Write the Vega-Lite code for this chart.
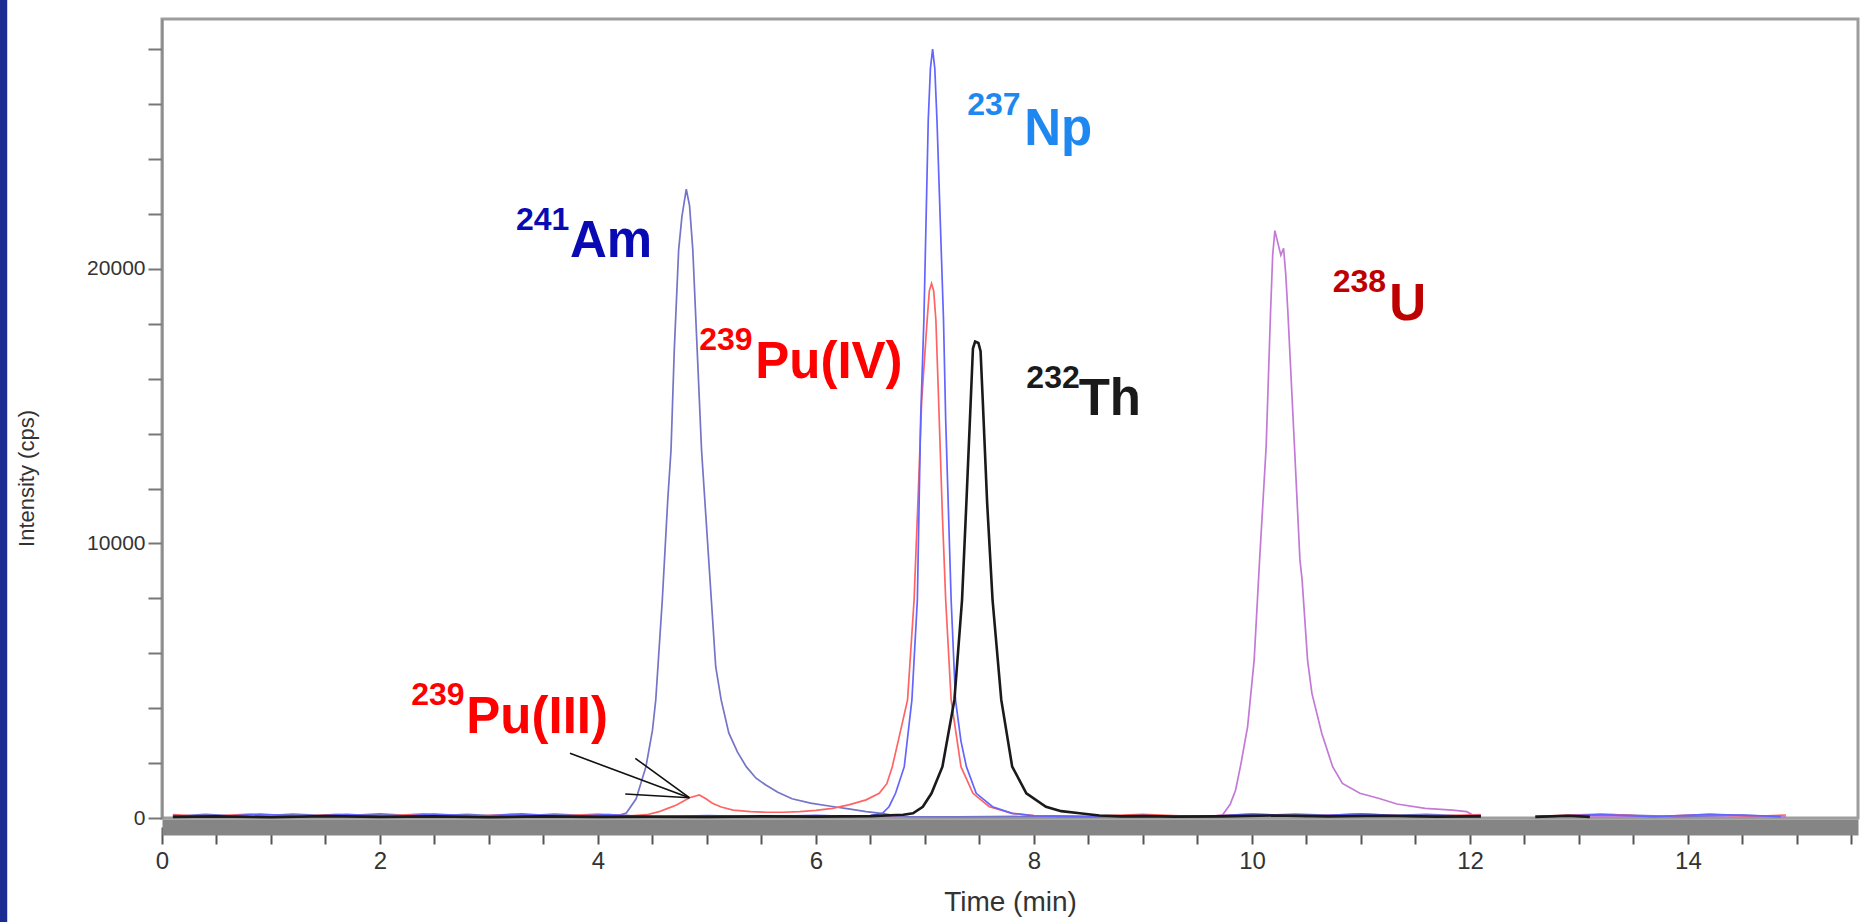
{
  "$schema": "https://vega.github.io/schema/vega-lite/v6.json",
  "autosize": "none",
  "width": 1696,
  "height": 799,
  "padding": {"left": 162, "top": 19, "right": 4, "bottom": 104},
  "background": "white",
  "config": {
    "font": "Liberation Sans",
    "view": {"stroke": "#9d9d9d", "strokeWidth": 3},
    "axis": {"grid": false, "labelOverlap": false, "labelFlush": false, "titleFontWeight": "normal"},
    "axisX": {"labelOverlap": false},
    "axisY": {"labelOverlap": false}
  },
  "datasets": {
    "strip": [{"name": "frame"}],
    "traces": [
      {"s":"Am","g":"a","t":0.1,"v":60},{"s":"Am","g":"a","t":0.4,"v":130},{"s":"Am","g":"a","t":0.8,"v":50},{"s":"Am","g":"a","t":1.2,"v":140},{"s":"Am","g":"a","t":1.6,"v":70},{"s":"Am","g":"a","t":2.0,"v":150},{"s":"Am","g":"a","t":2.4,"v":60},{"s":"Am","g":"a","t":2.8,"v":130},{"s":"Am","g":"a","t":3.2,"v":50},{"s":"Am","g":"a","t":3.6,"v":140},{"s":"Am","g":"a","t":4.0,"v":70},{"s":"Am","g":"a","t":4.2,"v":110},{"s":"Am","g":"a","t":4.26,"v":180},{"s":"Am","g":"a","t":4.35,"v":700},{"s":"Am","g":"a","t":4.44,"v":1870},{"s":"Am","g":"a","t":4.5,"v":3200},{"s":"Am","g":"a","t":4.53,"v":4300},{"s":"Am","g":"a","t":4.59,"v":7940},{"s":"Am","g":"a","t":4.64,"v":11580},{"s":"Am","g":"a","t":4.67,"v":13400},{"s":"Am","g":"a","t":4.7,"v":17050},{"s":"Am","g":"a","t":4.74,"v":20690},{"s":"Am","g":"a","t":4.77,"v":21900},{"s":"Am","g":"a","t":4.81,"v":22900},{"s":"Am","g":"a","t":4.84,"v":22300},{"s":"Am","g":"a","t":4.87,"v":20690},{"s":"Am","g":"a","t":4.91,"v":17050},{"s":"Am","g":"a","t":4.95,"v":13400},{"s":"Am","g":"a","t":4.98,"v":11580},{"s":"Am","g":"a","t":5.04,"v":7940},{"s":"Am","g":"a","t":5.08,"v":5510},{"s":"Am","g":"a","t":5.13,"v":4300},{"s":"Am","g":"a","t":5.2,"v":3100},{"s":"Am","g":"a","t":5.28,"v":2400},{"s":"Am","g":"a","t":5.36,"v":1870},{"s":"Am","g":"a","t":5.45,"v":1450},{"s":"Am","g":"a","t":5.54,"v":1200},{"s":"Am","g":"a","t":5.65,"v":940},{"s":"Am","g":"a","t":5.78,"v":700},{"s":"Am","g":"a","t":5.95,"v":540},{"s":"Am","g":"a","t":6.15,"v":420},{"s":"Am","g":"a","t":6.3,"v":330},{"s":"Am","g":"a","t":6.46,"v":230},{"s":"Am","g":"a","t":6.6,"v":170},{"s":"Am","g":"a","t":6.72,"v":90},{"s":"Am","g":"a","t":6.85,"v":50},{"s":"Am","g":"a","t":7.3,"v":40},{"s":"Am","g":"a","t":8.0,"v":60},{"s":"Am","g":"a","t":8.6,"v":40},{"s":"Am","g":"a","t":9.2,"v":80},{"s":"Am","g":"a","t":9.8,"v":50},{"s":"Am","g":"a","t":10.4,"v":140},{"s":"Am","g":"a","t":11.0,"v":60},{"s":"Am","g":"a","t":11.6,"v":130},{"s":"Am","g":"a","t":12.1,"v":50},
      {"s":"Am","g":"b","t":12.6,"v":60},{"s":"Am","g":"b","t":13.3,"v":120},{"s":"Am","g":"b","t":13.9,"v":50},{"s":"Am","g":"b","t":14.5,"v":110},{"s":"Am","g":"b","t":14.85,"v":40},
      {"s":"Np","g":"a","t":0.1,"v":90},{"s":"Np","g":"a","t":0.5,"v":40},{"s":"Np","g":"a","t":0.9,"v":140},{"s":"Np","g":"a","t":1.3,"v":50},{"s":"Np","g":"a","t":1.7,"v":130},{"s":"Np","g":"a","t":2.1,"v":40},{"s":"Np","g":"a","t":2.5,"v":140},{"s":"Np","g":"a","t":2.9,"v":60},{"s":"Np","g":"a","t":3.3,"v":150},{"s":"Np","g":"a","t":3.7,"v":50},{"s":"Np","g":"a","t":4.1,"v":120},{"s":"Np","g":"a","t":4.5,"v":40},{"s":"Np","g":"a","t":5.0,"v":90},{"s":"Np","g":"a","t":5.5,"v":50},{"s":"Np","g":"a","t":6.0,"v":100},{"s":"Np","g":"a","t":6.3,"v":60},{"s":"Np","g":"a","t":6.5,"v":90},{"s":"Np","g":"a","t":6.61,"v":170},{"s":"Np","g":"a","t":6.67,"v":410},{"s":"Np","g":"a","t":6.73,"v":900},{"s":"Np","g":"a","t":6.81,"v":1870},{"s":"Np","g":"a","t":6.88,"v":4300},{"s":"Np","g":"a","t":6.93,"v":7940},{"s":"Np","g":"a","t":6.96,"v":14500},{"s":"Np","g":"a","t":6.99,"v":18140},{"s":"Np","g":"a","t":7.01,"v":21780},{"s":"Np","g":"a","t":7.03,"v":25420},{"s":"Np","g":"a","t":7.05,"v":27300},{"s":"Np","g":"a","t":7.07,"v":28000},{"s":"Np","g":"a","t":7.09,"v":27300},{"s":"Np","g":"a","t":7.11,"v":25420},{"s":"Np","g":"a","t":7.14,"v":21780},{"s":"Np","g":"a","t":7.17,"v":18140},{"s":"Np","g":"a","t":7.19,"v":14500},{"s":"Np","g":"a","t":7.24,"v":7940},{"s":"Np","g":"a","t":7.28,"v":4300},{"s":"Np","g":"a","t":7.33,"v":2800},{"s":"Np","g":"a","t":7.38,"v":1870},{"s":"Np","g":"a","t":7.47,"v":900},{"s":"Np","g":"a","t":7.62,"v":410},{"s":"Np","g":"a","t":7.8,"v":170},{"s":"Np","g":"a","t":8.0,"v":80},{"s":"Np","g":"a","t":8.5,"v":50},{"s":"Np","g":"a","t":9.0,"v":90},{"s":"Np","g":"a","t":9.5,"v":40},{"s":"Np","g":"a","t":10.0,"v":140},{"s":"Np","g":"a","t":10.5,"v":60},{"s":"Np","g":"a","t":11.0,"v":150},{"s":"Np","g":"a","t":11.5,"v":50},{"s":"Np","g":"a","t":12.1,"v":90},
      {"s":"Np","g":"b","t":12.6,"v":40},{"s":"Np","g":"b","t":13.2,"v":120},{"s":"Np","g":"b","t":13.7,"v":50},{"s":"Np","g":"b","t":14.2,"v":130},{"s":"Np","g":"b","t":14.85,"v":60},
      {"s":"Pu","g":"a","t":0.1,"v":120},{"s":"Pu","g":"a","t":0.4,"v":50},{"s":"Pu","g":"a","t":0.8,"v":140},{"s":"Pu","g":"a","t":1.2,"v":40},{"s":"Pu","g":"a","t":1.6,"v":130},{"s":"Pu","g":"a","t":2.0,"v":60},{"s":"Pu","g":"a","t":2.4,"v":150},{"s":"Pu","g":"a","t":2.8,"v":50},{"s":"Pu","g":"a","t":3.2,"v":130},{"s":"Pu","g":"a","t":3.6,"v":60},{"s":"Pu","g":"a","t":4.0,"v":140},{"s":"Pu","g":"a","t":4.3,"v":80},{"s":"Pu","g":"a","t":4.45,"v":120},{"s":"Pu","g":"a","t":4.56,"v":230},{"s":"Pu","g":"a","t":4.64,"v":350},{"s":"Pu","g":"a","t":4.72,"v":470},{"s":"Pu","g":"a","t":4.84,"v":740},{"s":"Pu","g":"a","t":4.93,"v":840},{"s":"Pu","g":"a","t":4.99,"v":700},{"s":"Pu","g":"a","t":5.05,"v":535},{"s":"Pu","g":"a","t":5.13,"v":400},{"s":"Pu","g":"a","t":5.24,"v":290},{"s":"Pu","g":"a","t":5.4,"v":230},{"s":"Pu","g":"a","t":5.54,"v":210},{"s":"Pu","g":"a","t":5.7,"v":210},{"s":"Pu","g":"a","t":5.85,"v":230},{"s":"Pu","g":"a","t":6.0,"v":280},{"s":"Pu","g":"a","t":6.15,"v":350},{"s":"Pu","g":"a","t":6.3,"v":480},{"s":"Pu","g":"a","t":6.46,"v":660},{"s":"Pu","g":"a","t":6.58,"v":900},{"s":"Pu","g":"a","t":6.65,"v":1250},{"s":"Pu","g":"a","t":6.7,"v":1870},{"s":"Pu","g":"a","t":6.76,"v":2900},{"s":"Pu","g":"a","t":6.84,"v":4300},{"s":"Pu","g":"a","t":6.9,"v":7940},{"s":"Pu","g":"a","t":6.94,"v":12000},{"s":"Pu","g":"a","t":6.97,"v":15220},{"s":"Pu","g":"a","t":7.02,"v":18140},{"s":"Pu","g":"a","t":7.04,"v":19200},{"s":"Pu","g":"a","t":7.06,"v":19470},{"s":"Pu","g":"a","t":7.08,"v":19200},{"s":"Pu","g":"a","t":7.1,"v":18140},{"s":"Pu","g":"a","t":7.125,"v":15220},{"s":"Pu","g":"a","t":7.16,"v":11000},{"s":"Pu","g":"a","t":7.19,"v":7940},{"s":"Pu","g":"a","t":7.24,"v":4300},{"s":"Pu","g":"a","t":7.33,"v":1870},{"s":"Pu","g":"a","t":7.44,"v":900},{"s":"Pu","g":"a","t":7.59,"v":410},{"s":"Pu","g":"a","t":7.8,"v":170},{"s":"Pu","g":"a","t":8.0,"v":90},{"s":"Pu","g":"a","t":8.5,"v":60},{"s":"Pu","g":"a","t":9.0,"v":130},{"s":"Pu","g":"a","t":9.5,"v":50},{"s":"Pu","g":"a","t":10.0,"v":140},{"s":"Pu","g":"a","t":10.5,"v":60},{"s":"Pu","g":"a","t":11.0,"v":150},{"s":"Pu","g":"a","t":11.5,"v":50},{"s":"Pu","g":"a","t":12.1,"v":120},
      {"s":"Pu","g":"b","t":12.6,"v":60},{"s":"Pu","g":"b","t":13.2,"v":140},{"s":"Pu","g":"b","t":13.7,"v":50},{"s":"Pu","g":"b","t":14.2,"v":130},{"s":"Pu","g":"b","t":14.6,"v":60},{"s":"Pu","g":"b","t":14.9,"v":110},
      {"s":"Th","g":"a","t":0.1,"v":40},{"s":"Th","g":"a","t":0.5,"v":60},{"s":"Th","g":"a","t":1.0,"v":30},{"s":"Th","g":"a","t":1.5,"v":70},{"s":"Th","g":"a","t":2.0,"v":40},{"s":"Th","g":"a","t":2.5,"v":60},{"s":"Th","g":"a","t":3.0,"v":30},{"s":"Th","g":"a","t":3.5,"v":60},{"s":"Th","g":"a","t":4.0,"v":40},{"s":"Th","g":"a","t":4.5,"v":50},{"s":"Th","g":"a","t":5.0,"v":40},{"s":"Th","g":"a","t":5.5,"v":60},{"s":"Th","g":"a","t":6.0,"v":50},{"s":"Th","g":"a","t":6.5,"v":70},{"s":"Th","g":"a","t":6.8,"v":120},{"s":"Th","g":"a","t":6.89,"v":170},{"s":"Th","g":"a","t":6.98,"v":410},{"s":"Th","g":"a","t":7.06,"v":900},{"s":"Th","g":"a","t":7.16,"v":1870},{"s":"Th","g":"a","t":7.27,"v":4300},{"s":"Th","g":"a","t":7.34,"v":7940},{"s":"Th","g":"a","t":7.38,"v":11500},{"s":"Th","g":"a","t":7.42,"v":15220},{"s":"Th","g":"a","t":7.44,"v":17100},{"s":"Th","g":"a","t":7.46,"v":17350},{"s":"Th","g":"a","t":7.49,"v":17300},{"s":"Th","g":"a","t":7.51,"v":17000},{"s":"Th","g":"a","t":7.53,"v":15220},{"s":"Th","g":"a","t":7.57,"v":11500},{"s":"Th","g":"a","t":7.62,"v":7940},{"s":"Th","g":"a","t":7.7,"v":4300},{"s":"Th","g":"a","t":7.8,"v":1870},{"s":"Th","g":"a","t":7.93,"v":900},{"s":"Th","g":"a","t":8.11,"v":410},{"s":"Th","g":"a","t":8.25,"v":250},{"s":"Th","g":"a","t":8.42,"v":170},{"s":"Th","g":"a","t":8.6,"v":90},{"s":"Th","g":"a","t":8.8,"v":60},{"s":"Th","g":"a","t":9.0,"v":70},{"s":"Th","g":"a","t":9.3,"v":50},{"s":"Th","g":"a","t":9.7,"v":60},{"s":"Th","g":"a","t":10.2,"v":90},{"s":"Th","g":"a","t":10.7,"v":60},{"s":"Th","g":"a","t":11.2,"v":80},{"s":"Th","g":"a","t":11.7,"v":50},{"s":"Th","g":"a","t":12.1,"v":60},
      {"s":"Th","g":"b","t":12.6,"v":40},{"s":"Th","g":"b","t":12.9,"v":80},{"s":"Th","g":"b","t":13.1,"v":40},
      {"s":"U","g":"a","t":0.1,"v":30},{"s":"U","g":"a","t":1.0,"v":40},{"s":"U","g":"a","t":2.0,"v":30},{"s":"U","g":"a","t":3.0,"v":40},{"s":"U","g":"a","t":4.0,"v":30},{"s":"U","g":"a","t":5.0,"v":40},{"s":"U","g":"a","t":6.0,"v":30},{"s":"U","g":"a","t":7.0,"v":40},{"s":"U","g":"a","t":8.0,"v":30},{"s":"U","g":"a","t":9.0,"v":40},{"s":"U","g":"a","t":9.6,"v":50},{"s":"U","g":"a","t":9.73,"v":110},{"s":"U","g":"a","t":9.8,"v":500},{"s":"U","g":"a","t":9.85,"v":1020},{"s":"U","g":"a","t":9.9,"v":2000},{"s":"U","g":"a","t":9.96,"v":3330},{"s":"U","g":"a","t":10.02,"v":5750},{"s":"U","g":"a","t":10.07,"v":9400},{"s":"U","g":"a","t":10.13,"v":13520},{"s":"U","g":"a","t":10.17,"v":18380},{"s":"U","g":"a","t":10.19,"v":20500},{"s":"U","g":"a","t":10.21,"v":21390},{"s":"U","g":"a","t":10.24,"v":20900},{"s":"U","g":"a","t":10.265,"v":20500},{"s":"U","g":"a","t":10.29,"v":20750},{"s":"U","g":"a","t":10.31,"v":19800},{"s":"U","g":"a","t":10.33,"v":18380},{"s":"U","g":"a","t":10.39,"v":13520},{"s":"U","g":"a","t":10.44,"v":9400},{"s":"U","g":"a","t":10.46,"v":8670},{"s":"U","g":"a","t":10.51,"v":5750},{"s":"U","g":"a","t":10.55,"v":4540},{"s":"U","g":"a","t":10.64,"v":3090},{"s":"U","g":"a","t":10.74,"v":1870},{"s":"U","g":"a","t":10.83,"v":1260},{"s":"U","g":"a","t":10.99,"v":900},{"s":"U","g":"a","t":11.16,"v":720},{"s":"U","g":"a","t":11.33,"v":510},{"s":"U","g":"a","t":11.59,"v":350},{"s":"U","g":"a","t":11.84,"v":290},{"s":"U","g":"a","t":11.97,"v":230},{"s":"U","g":"a","t":12.03,"v":100},{"s":"U","g":"a","t":12.1,"v":40},
      {"s":"U","g":"b","t":12.6,"v":30},{"s":"U","g":"b","t":13.5,"v":40},{"s":"U","g":"b","t":14.5,"v":30},{"s":"U","g":"b","t":14.9,"v":40}
    ],
    "labels": [
      {"k":"sup","lab":"Am","txt":"241","t":3.248,"v":21415},
      {"k":"main","lab":"Am","txt":"Am","t":3.743,"v":20421},
      {"k":"sup","lab":"PuIV","txt":"239","t":4.929,"v":17045},
      {"k":"main","lab":"PuIV","txt":"Pu(IV)","t":5.443,"v":16014},
      {"k":"sup","lab":"Np","txt":"237","t":7.388,"v":25603},
      {"k":"main","lab":"Np","txt":"Np","t":7.911,"v":24511},
      {"k":"sup","lab":"Th","txt":"232","t":7.93,"v":15661},
      {"k":"main","lab":"Th","txt":"Th","t":8.41,"v":14677},
      {"k":"sup","lab":"U","txt":"238","t":10.74,"v":19157},
      {"k":"main","lab":"U","txt":"U","t":11.26,"v":18137},
      {"k":"sup","lab":"PuIII","txt":"239","t":2.287,"v":4115},
      {"k":"main","lab":"PuIII","txt":"Pu(III)","t":2.792,"v":3096}
    ],
    "arrows": [
      {"t":3.743,"v":2356,"t2":4.838,"v2":739},
      {"t":4.342,"v":2174,"t2":4.838,"v2":739},
      {"t":4.25,"v":874,"t2":4.838,"v2":739}
    ]
  },
  "layer": [
    {
      "data": {"name": "strip"},
      "mark": {"type": "rect", "fill": "#1b2c92", "clip": false},
      "encoding": {
        "x": {"datum": -1.5, "type": "quantitative", "scale": {"domain": [0, 15.56], "nice": false, "zero": false}},
        "x2": {"datum": -1.42},
        "y": {"datum": -3900, "type": "quantitative", "scale": {"domain": [0, 29100], "nice": false}},
        "y2": {"datum": 29900}
      }
    },
    {
      "encoding": {
        "x": {"field": "t", "type": "quantitative",
          "scale": {"domain": [0, 15.56], "nice": false, "zero": false},
          "axis": {
            "title": "Time (min)",
            "values": [0,0.5,1,1.5,2,2.5,3,3.5,4,4.5,5,5.5,6,6.5,7,7.5,8,8.5,9,9.5,10,10.5,11,11.5,12,12.5,13,13.5,14,14.5,15,15.5],
            "labelExpr": "datum.value % 2 === 0 ? '' + datum.value : ''",
            "labelOverlap": false, "labelFlush": false,
            "labelFontSize": 24, "labelColor": "#333333", "labelPadding": 5,
            "tickSize": 17, "tickColor": "#555555", "tickWidth": 2,
            "domainColor": "#858585", "domainWidth": 16, "offset": 9,
            "titleFontSize": 28, "titleColor": "#333333", "titleY": 75, "titleBaseline": "middle",
            "zindex": 1
          }
        },
        "y": {"field": "v", "type": "quantitative",
          "scale": {"domain": [0, 29100], "nice": false},
          "axis": {
            "title": "Intensity (cps)",
            "values": [0,1000,2000,3000,4000,5000,6000,7000,8000,9000,10000,11000,12000,13000,14000,15000,16000,17000,18000,19000,20000,21000,22000,23000,24000,25000,26000,27000,28000,29000],
            "labelExpr": "datum.value % 5000 === 0 ? '' + datum.value : ''",
            "labelOverlap": false, "labelFlush": false,
            "labelFontSize": 21, "labelColor": "#333333", "labelPadding": 3,
            "tickSize": 14, "tickColor": "#777777", "tickWidth": 2,
            "domainColor": "#8a8a8a", "domainWidth": 2,
            "titleFontSize": 22, "titleColor": "#333333",
            "titleX": -136, "titleY": 459, "titleAlign": "center", "titleBaseline": "middle", "titleAngle": 270
          }
        }
      },
      "layer": [
        {
          "data": {"name": "traces"},
          "transform": [{"filter": "datum.s === 'U'"}],
          "mark": {"type": "line", "color": "#c27ad6", "strokeWidth": 1.7},
          "encoding": {"detail": {"field": "g"}}
        },
        {
          "data": {"name": "traces"},
          "transform": [{"filter": "datum.s === 'Am'"}],
          "mark": {"type": "line", "color": "#7474c8", "strokeWidth": 1.7},
          "encoding": {"detail": {"field": "g"}}
        },
        {
          "data": {"name": "traces"},
          "transform": [{"filter": "datum.s === 'Pu'"}],
          "mark": {"type": "line", "color": "#ff6464", "strokeWidth": 1.7},
          "encoding": {"detail": {"field": "g"}}
        },
        {
          "data": {"name": "traces"},
          "transform": [{"filter": "datum.s === 'Np'"}],
          "mark": {"type": "line", "color": "#6464ff", "strokeWidth": 1.7},
          "encoding": {"detail": {"field": "g"}}
        },
        {
          "data": {"name": "traces"},
          "transform": [{"filter": "datum.s === 'Th'"}],
          "mark": {"type": "line", "color": "#1a1a1a", "strokeWidth": 2.6},
          "encoding": {"detail": {"field": "g"}}
        },
        {
          "data": {"name": "arrows"},
          "mark": {"type": "rule", "color": "#111111", "strokeWidth": 1.6},
          "encoding": {"x2": {"field": "t2"}, "y2": {"field": "v2"}}
        },
        {
          "data": {"name": "labels"},
          "transform": [{"filter": "datum.k === 'sup'"}],
          "mark": {"type": "text", "align": "left", "baseline": "alphabetic", "font": "Liberation Sans", "fontWeight": "bold", "fontSize": 32},
          "encoding": {
            "text": {"field": "txt"},
            "color": {"field": "lab", "type": "nominal", "legend": null,
              "scale": {"domain": ["Am","PuIV","Np","Th","U","PuIII"], "range": ["#0a0ab4","#ff0000","#1e88f0","#1a1a1a","#bf0000","#ff0000"]}}
          }
        },
        {
          "data": {"name": "labels"},
          "transform": [{"filter": "datum.k === 'main'"}],
          "mark": {"type": "text", "align": "left", "baseline": "alphabetic", "font": "Liberation Sans", "fontWeight": "bold", "fontSize": 51},
          "encoding": {
            "text": {"field": "txt"},
            "color": {"field": "lab", "type": "nominal", "legend": null,
              "scale": {"domain": ["Am","PuIV","Np","Th","U","PuIII"], "range": ["#0a0ab4","#ff0000","#1e88f0","#1a1a1a","#bf0000","#ff0000"]}}
          }
        }
      ]
    }
  ]
}
